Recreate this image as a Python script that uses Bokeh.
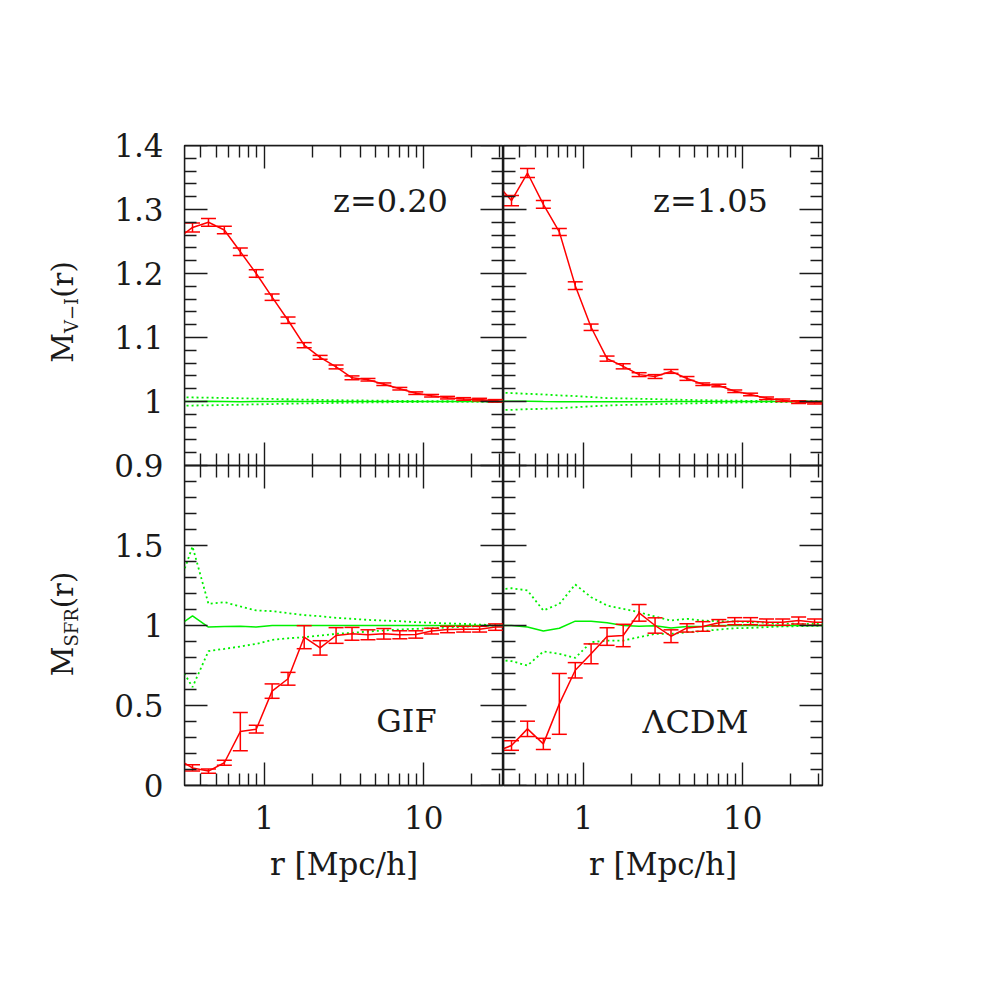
import math
from bokeh.plotting import figure
from bokeh.models import (Range1d, LinearAxis, LogAxis, FixedTicker, PrintfTickFormatter,
                          CustomJSTickFormatter, ColumnDataSource, Label, Div)
from bokeh.layouts import row
from bokeh.embed import file_html
from bokeh.resources import INLINE

# ---------------- data ----------------
# separation bins r [Mpc/h]; first and last bins fall just outside the plotted range
r = [0.282, 0.355, 0.447, 0.562, 0.708, 0.891, 1.12, 1.41, 1.78, 2.24, 2.82,
     3.55, 4.47, 5.62, 7.08, 8.91, 11.2, 14.1, 17.8, 22.4, 28.2, 35.5]

# M_{V-I}(r), z = 0.20
mvi_z020 = [1.253, 1.272, 1.280, 1.268, 1.234, 1.200, 1.163, 1.127, 1.088, 1.069, 1.054,
            1.037, 1.034, 1.027, 1.020, 1.013, 1.009, 1.006, 1.004, 1.003, 1.001, 0.999]
mvi_z020_err = [0.007, 0.007, 0.006, 0.006, 0.006, 0.006, 0.005, 0.005, 0.004, 0.003, 0.003,
                0.003, 0.002, 0.002, 0.002, 0.002, 0.002, 0.002, 0.002, 0.002, 0.002, 0.002]
rand_z020_mean = [1.0, 1.0, 1.0005, 1.0, 0.9995, 1.0, 1.0, 1.0005, 1.0, 1.0, 1.0,
                  1.0, 1.0, 1.0, 1.0, 1.0, 1.0, 1.0, 1.0, 1.0, 1.0, 1.0]
rand_z020_hi = [1.007, 1.0063, 1.006, 1.0055, 1.005, 1.0045, 1.004, 1.0035, 1.003, 1.0025, 1.002,
                1.0018, 1.0015, 1.0012, 1.001, 1.0008, 1.0006, 1.0004, 1.0002, 1.0001, 1.0, 1.0]
rand_z020_lo = [0.993, 0.9937, 0.994, 0.9945, 0.995, 0.9955, 0.996, 0.9965, 0.997, 0.9974, 0.9978,
                0.9982, 0.9985, 0.9988, 0.999, 0.9992, 0.9994, 0.9996, 0.9998, 0.9999, 1.0, 1.0]

# M_{V-I}(r), z = 1.05
mvi_z105 = [1.342, 1.314, 1.357, 1.308, 1.265, 1.181, 1.116, 1.067, 1.055, 1.042, 1.039,
            1.047, 1.036, 1.027, 1.025, 1.016, 1.011, 1.005, 1.002, 0.999, 0.998, 0.998]
mvi_z105_err = [0.008, 0.008, 0.007, 0.006, 0.0055, 0.006, 0.005, 0.004, 0.004, 0.003, 0.003,
                0.003, 0.003, 0.002, 0.002, 0.002, 0.002, 0.002, 0.002, 0.002, 0.002, 0.002]
rand_z105_mean = [1.0005, 1.0005, 1.0003, 1.0, 0.9998, 0.9995, 0.9995, 0.9995, 0.9995, 0.9997, 0.9998,
                  1.0, 1.0, 1.0, 1.0, 1.0, 1.0, 1.0, 1.0, 1.0, 1.0, 1.0]
rand_z105_hi = [1.014, 1.0132, 1.012, 1.011, 1.0095, 1.0085, 1.007, 1.0053, 1.0048, 1.0043, 1.0037,
                1.003, 1.0025, 1.0021, 1.0016, 1.0013, 1.001, 1.0006, 1.0003, 1.0001, 1.0, 1.0]
rand_z105_lo = [0.9865, 0.987, 0.988, 0.9885, 0.9895, 0.991, 0.9925, 0.9937, 0.9945, 0.995, 0.9958,
                0.9964, 0.997, 0.9974, 0.9978, 0.9984, 0.9988, 0.999, 0.9993, 0.9996, 0.9998, 1.0]

# M_SFR(r), GIF
msfr_gif = [0.17, 0.110, 0.090, 0.142, 0.337, 0.352, 0.590, 0.667, 0.927, 0.860, 0.9375,
            0.948, 0.942, 0.948, 0.942, 0.944, 0.965, 0.975, 0.977, 0.977, 0.990, 0.990]
msfr_gif_err = [0.02, 0.02, 0.013, 0.016, 0.12, 0.024, 0.045, 0.04, 0.072, 0.045, 0.049,
                0.04, 0.031, 0.033, 0.025, 0.023, 0.018, 0.02, 0.018, 0.018, 0.02, 0.02]
rand_gif_mean = [0.99, 1.06, 0.99, 0.993, 0.996, 0.99, 1.0, 1.0, 1.0, 1.0, 1.0,
                 1.0, 1.0, 1.0, 1.0, 1.0, 1.0, 1.0, 1.0, 1.0, 1.0, 1.0]
rand_gif_hi = [1.21, 1.494, 1.135, 1.146, 1.119, 1.094, 1.09, 1.077, 1.065, 1.058, 1.048,
               1.042, 1.035, 1.031, 1.027, 1.021, 1.017, 1.013, 1.01, 1.006, 1.002, 1.0]
rand_gif_lo = [0.78, 0.615, 0.84, 0.854, 0.869, 0.885, 0.91, 0.92, 0.927, 0.9375, 0.948,
               0.954, 0.9625, 0.969, 0.975, 0.979, 0.983, 0.9875, 0.992, 0.996, 1.0, 1.0]

# M_SFR(r), LambdaCDM
msfr_lcdm = [0.21, 0.25, 0.354, 0.26, 0.51, 0.72, 0.823, 0.931, 0.9375, 1.079, 1.0,
             0.933, 0.985, 0.994, 1.017, 1.027, 1.027, 1.021, 1.021, 1.031, 1.021, 1.02]
msfr_lcdm_err = [0.03, 0.03, 0.048, 0.035, 0.19, 0.048, 0.062, 0.055, 0.07, 0.052, 0.048,
                 0.04, 0.026, 0.03, 0.02, 0.022, 0.022, 0.02, 0.02, 0.022, 0.02, 0.02]
rand_lcdm_mean = [1.0, 1.0, 0.99, 0.965, 0.983, 1.027, 1.027, 1.017, 1.0, 0.996, 0.998,
                  0.985, 0.994, 0.994, 1.0, 1.0, 1.0, 1.0, 1.0, 1.0, 1.0, 1.0]
rand_lcdm_hi = [1.223, 1.233, 1.219, 1.094, 1.135, 1.256, 1.177, 1.125, 1.104, 1.083, 1.056,
                1.031, 1.042, 1.031, 1.027, 1.025, 1.021, 1.017, 1.013, 1.01, 1.01, 1.008]
rand_lcdm_lo = [0.7875, 0.777, 0.75, 0.8375, 0.823, 0.798, 0.896, 0.906, 0.906, 0.927, 0.948,
                0.948, 0.958, 0.965, 0.975, 0.983, 0.985, 0.99, 0.994, 0.996, 0.998, 1.0]

# axes / ticks
x_lim = [10 ** -0.5, 10 ** 1.5]
x_major = [1, 10]
x_minor = [0.4, 0.5, 0.6, 0.7, 0.8, 0.9, 2, 3, 4, 5, 6, 7, 8, 9, 20, 30]
top_lim = [0.9, 1.4]
top_major = [0.9, 1.0, 1.1, 1.2, 1.3, 1.4]
top_minor = [0.92, 0.94, 0.96, 0.98, 1.02, 1.04, 1.06, 1.08, 1.12, 1.14, 1.16, 1.18,
             1.22, 1.24, 1.26, 1.28, 1.32, 1.34, 1.36, 1.38]
bot_lim = [0.0, 2.0]
bot_major = [0.0, 0.5, 1.0, 1.5]
bot_minor = [0.1, 0.2, 0.3, 0.4, 0.6, 0.7, 0.8, 0.9, 1.1, 1.2, 1.3, 1.4, 1.6, 1.7, 1.8, 1.9]

panel_text = [["z=0.20", "GIF"], ["z=1.05", "\u039bCDM"]]
x_title = "r [Mpc/h]"
y_title_sub = ["V\u2212I", "SFR"]

# ---------------- styling / layout ----------------
FONT = "DejaVu Serif"
INK = "#1a1a1a"
RED = "#ff0000"
GREEN = "#00f000"
FS = "31px"

TITLE_W = 92                      # width of the strip holding the rotated y titles
LEFT_B, RIGHT_B, TOP_B, BOT_B = 184 - TITLE_W, 40, 145, 150
FW, FH = 319, 640                 # one column = two stacked panels of 319 x 320

# in each column the upper panel uses the default y range (its limits fill the upper half),
# the lower panel uses the "bot" range (its limits fill the lower half)
TOP_FULL = (top_lim[0] - (top_lim[1] - top_lim[0]), top_lim[1])
BOT_FULL = (bot_lim[0], bot_lim[1] + (bot_lim[1] - bot_lim[0]))


def bot_to_top(v):
    """position of a lower-panel value on the column's default (upper) range"""
    return TOP_FULL[0] + (v - BOT_FULL[0]) * (TOP_FULL[1] - TOP_FULL[0]) / (BOT_FULL[1] - BOT_FULL[0])


def style_axis(ax, labelled):
    ax.major_tick_in = 23
    ax.major_tick_out = 0
    ax.minor_tick_in = 12
    ax.minor_tick_out = 0
    for attr in ("axis_line", "major_tick_line", "minor_tick_line"):
        setattr(ax, attr + "_color", INK)
        setattr(ax, attr + "_width", 1.4)
    if labelled:
        ax.formatter = PrintfTickFormatter(format="%g")
        ax.major_label_text_font = FONT
        ax.major_label_text_font_size = FS
        ax.major_label_text_color = INK
    else:
        ax.formatter = CustomJSTickFormatter(code="return ''")
        ax.major_label_standoff = 0


def make_column(is_left):
    w = FW + (LEFT_B if is_left else RIGHT_B)
    h = FH + TOP_B + BOT_B
    p = figure(width=w, height=h, x_axis_type="log",
               x_range=Range1d(*x_lim), y_range=Range1d(*TOP_FULL),
               extra_y_ranges={"bot": Range1d(*BOT_FULL)},
               x_axis_location=None, y_axis_location=None,
               toolbar_location=None, output_backend="svg",
               min_border_left=LEFT_B if is_left else 0,
               min_border_right=0 if is_left else RIGHT_B,
               min_border_top=TOP_B, min_border_bottom=BOT_B)
    p.grid.visible = False
    p.outline_line_color = INK
    p.outline_line_width = 1.4
    p.background_fill_color = "white"
    p.border_fill_color = "white"

    # tick marks of each panel, in the panel's own range
    for rname, lim, maj, mnr in (("default", top_lim, top_major, top_minor),
                                 ("bot", bot_lim, bot_major, bot_minor)):
        for side, loc in (("left", x_lim[0]), ("right", x_lim[1])):
            ax = LinearAxis(y_range_name=rname, bounds=tuple(lim), fixed_location=loc,
                            ticker=FixedTicker(ticks=maj, minor_ticks=mnr))
            style_axis(ax, False)
            p.add_layout(ax, side)

    if is_left:
        # tick labels of both panels, outside the frame
        pos = list(top_major) + [bot_to_top(v) for v in bot_major]
        txt = ["%g" % v for v in top_major] + ["%g" % v for v in bot_major]
        lab = LinearAxis(ticker=FixedTicker(ticks=pos),
                         formatter=CustomJSTickFormatter(
                             args=dict(pos=pos, txt=txt),
                             code="const i = pos.findIndex(p => Math.abs(p - tick) < 1e-9);"
                                  "return i >= 0 ? txt[i] : '';"),
                         axis_line_color=None, major_tick_line_color=None,
                         minor_tick_line_color=None, major_tick_in=0, major_tick_out=0,
                         minor_tick_in=0, minor_tick_out=0, major_label_standoff=21,
                         major_label_text_font=FONT, major_label_text_font_size=FS,
                         major_label_text_color=INK)
        p.add_layout(lab, "left")

    xt = dict(ticker=FixedTicker(ticks=x_major, minor_ticks=x_minor))
    ax = LogAxis(fixed_location=top_lim[1], **xt)                       # top edge, upper panel
    style_axis(ax, False)
    p.add_layout(ax, "above")
    ax = LogAxis(fixed_location=top_lim[0], **xt)                       # bottom edge, upper panel
    style_axis(ax, False)
    p.add_layout(ax, "below")
    ax = LogAxis(y_range_name="bot", fixed_location=bot_lim[1], **xt)   # top edge, lower panel
    style_axis(ax, False)
    p.add_layout(ax, "above")
    below = LogAxis(y_range_name="bot", **xt)                            # bottom edge, labelled
    style_axis(below, True)
    below.major_label_standoff = 20
    below.axis_label = x_title
    below.axis_label_text_font = FONT
    below.axis_label_text_font_size = FS
    below.axis_label_text_font_style = "normal"
    below.axis_label_text_color = INK
    below.axis_label_standoff = 14
    p.add_layout(below, "below")
    return p


def draw(p, rname, mean, hi, lo, vals, errs):
    kw = dict(y_range_name=rname)
    p.line(r, hi, line_color=GREEN, line_width=1.8, line_dash="2 3", **kw)
    p.line(r, lo, line_color=GREEN, line_width=1.8, line_dash="2 3", **kw)
    p.line(r, mean, line_color=GREEN, line_width=1.5, **kw)
    src = ColumnDataSource(data=dict(
        r=r, v=vals,
        lo=[v - e for v, e in zip(vals, errs)],
        hi=[v + e for v, e in zip(vals, errs)]))
    p.line("r", "v", source=src, line_color=RED, line_width=1.5, **kw)
    p.segment(x0="r", y0="lo", x1="r", y1="hi", source=src, line_color=RED, line_width=1.5, **kw)
    p.scatter("r", "lo", source=src, marker="dash", size=15, line_color=RED, line_width=1.5, **kw)
    p.scatter("r", "hi", source=src, marker="dash", size=15, line_color=RED, line_width=1.5, **kw)


def tag(p, text, x, y):
    p.add_layout(Label(x=x, y=y, x_units="screen", y_units="screen", text=text,
                       text_font=FONT, text_font_size="32px", text_color=INK,
                       text_align="center", text_baseline="middle"))


left_col = make_column(True)
right_col = make_column(False)

draw(left_col, "default", rand_z020_mean, rand_z020_hi, rand_z020_lo, mvi_z020, mvi_z020_err)
draw(right_col, "default", rand_z105_mean, rand_z105_hi, rand_z105_lo, mvi_z105, mvi_z105_err)
draw(left_col, "bot", rand_gif_mean, rand_gif_hi, rand_gif_lo, msfr_gif, msfr_gif_err)
draw(right_col, "bot", rand_lcdm_mean, rand_lcdm_hi, rand_lcdm_lo, msfr_lcdm, msfr_lcdm_err)

tag(left_col, panel_text[0][0], 206, 585)
tag(left_col, panel_text[0][1], 222, 65)
tag(right_col, panel_text[1][0], 207, 585)
tag(right_col, panel_text[1][1], 192, 64)


# rotated y titles with subscripts, as SVG text in a strip left of the plots
def ytitle_svg(cx, cy, sub):
    big = "font-family:'DejaVu Serif';font-size:29px;font-style:normal;font-weight:normal;fill:%s" % INK
    small = "font-family:'DejaVu Serif';font-size:18px;font-style:normal;font-weight:normal;fill:%s" % INK
    return ('<text transform="translate(%d,%d) rotate(-90)" text-anchor="middle" style="%s">M'
            '<tspan dy="5" style="%s">%s</tspan><tspan dy="-5" style="%s">(r)</tspan></text>'
            % (cx, cy, big, small, sub, big))


svg = ('<svg xmlns="http://www.w3.org/2000/svg" width="%d" height="%d" style="display:block">'
       % (TITLE_W, FH + TOP_B + BOT_B)
       + ytitle_svg(73, 312, y_title_sub[0]) + ytitle_svg(73, 624, y_title_sub[1]) + '</svg>')
titles = Div(text=svg, width=TITLE_W, height=FH + TOP_B + BOT_B, margin=0)

page = row(titles, left_col, right_col)

with open("out.html", "w") as f:
    f.write(file_html(page, INLINE))
